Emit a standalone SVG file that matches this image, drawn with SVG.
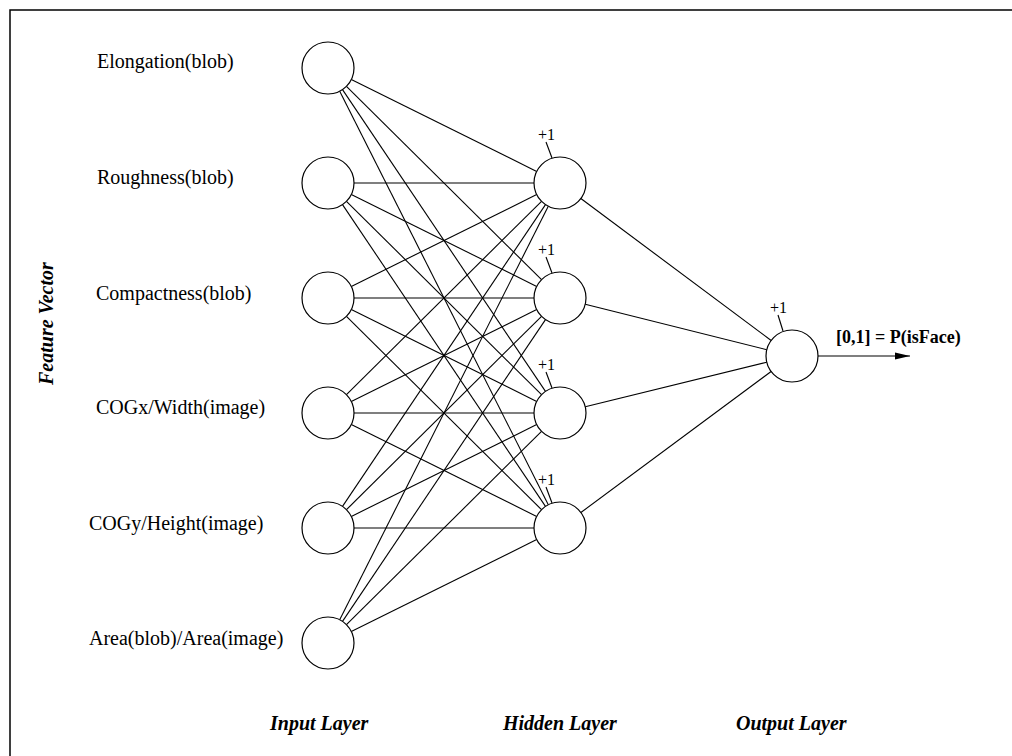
<svg xmlns="http://www.w3.org/2000/svg" width="1012" height="756" viewBox="0 0 1012 756">
<defs>
<style>
.frame{fill:#fff;stroke:#000;stroke-width:1.5}
.node{fill:#fff;stroke:#000;stroke-width:1.2}
.edge{stroke:#000;stroke-width:1.1;fill:none}
.lbl{font-family:"Liberation Serif","Times New Roman",serif;font-size:20px;fill:#000}
.bias{font-family:"Liberation Serif","Times New Roman",serif;font-size:16px;fill:#000}
.title{font-family:"Liberation Serif","Times New Roman",serif;font-size:20px;font-weight:bold;font-style:italic;fill:#000}
.out{font-family:"Liberation Serif","Times New Roman",serif;font-size:18px;font-weight:bold;fill:#000}
</style>
<marker id="arr" markerWidth="16" markerHeight="8" refX="15" refY="4" orient="auto" markerUnits="userSpaceOnUse">
<path d="M0,0.5 L15,4 L0,7.5 Z" fill="#000"/>
</marker>
</defs>
<rect class="frame" x="10" y="10" width="1100" height="800"/>
<text class="title" transform="translate(53,385) rotate(-90)">Feature Vector</text>
<g id="connectors">
<line class="edge" x1="351.30" y1="79.55" x2="536.70" y2="171.45"/>
<line class="edge" x1="346.46" y1="86.30" x2="541.54" y2="279.70"/>
<line class="edge" x1="342.51" y1="89.58" x2="545.49" y2="391.42"/>
<line class="edge" x1="339.71" y1="91.21" x2="548.29" y2="504.79"/>
<line class="edge" x1="354" y1="183" x2="534" y2="183"/>
<line class="edge" x1="351.30" y1="194.55" x2="536.70" y2="286.45"/>
<line class="edge" x1="346.46" y1="201.30" x2="541.54" y2="394.70"/>
<line class="edge" x1="342.51" y1="204.58" x2="545.49" y2="506.42"/>
<line class="edge" x1="351.30" y1="286.45" x2="536.70" y2="194.55"/>
<line class="edge" x1="354" y1="298" x2="534" y2="298"/>
<line class="edge" x1="351.30" y1="309.55" x2="536.70" y2="401.45"/>
<line class="edge" x1="346.46" y1="316.30" x2="541.54" y2="509.70"/>
<line class="edge" x1="346.46" y1="394.70" x2="541.54" y2="201.30"/>
<line class="edge" x1="351.30" y1="401.45" x2="536.70" y2="309.55"/>
<line class="edge" x1="354" y1="413" x2="534" y2="413"/>
<line class="edge" x1="351.30" y1="424.55" x2="536.70" y2="516.45"/>
<line class="edge" x1="342.51" y1="506.42" x2="545.49" y2="204.58"/>
<line class="edge" x1="346.46" y1="509.70" x2="541.54" y2="316.30"/>
<line class="edge" x1="351.30" y1="516.45" x2="536.70" y2="424.55"/>
<line class="edge" x1="354" y1="528" x2="534" y2="528"/>
<line class="edge" x1="339.71" y1="619.79" x2="548.29" y2="206.21"/>
<line class="edge" x1="342.51" y1="621.42" x2="545.49" y2="319.58"/>
<line class="edge" x1="346.46" y1="624.70" x2="541.54" y2="431.30"/>
<line class="edge" x1="351.30" y1="631.45" x2="536.70" y2="539.55"/>
<line class="edge" x1="580.84" y1="198.54" x2="771.16" y2="340.46"/>
<line class="edge" x1="585.22" y1="304.31" x2="766.78" y2="349.69"/>
<line class="edge" x1="585.25" y1="406.80" x2="766.75" y2="362.20"/>
<line class="edge" x1="580.89" y1="512.51" x2="771.11" y2="371.49"/>
<line class="edge" x1="546" y1="142" x2="552" y2="158"/>
<line class="edge" x1="546" y1="257" x2="552" y2="273"/>
<line class="edge" x1="546" y1="372" x2="552" y2="388"/>
<line class="edge" x1="546" y1="487" x2="552" y2="503"/>
<line class="edge" x1="778" y1="315" x2="783" y2="331"/>
<line class="edge" x1="818" y1="356" x2="910" y2="356" marker-end="url(#arr)"/>
</g>
<g id="in1"><circle class="node" cx="328" cy="68" r="26"/><text class="lbl" x="97" y="68">Elongation(blob)</text></g>
<g id="in2"><circle class="node" cx="328" cy="183" r="26"/><text class="lbl" x="97" y="184">Roughness(blob)</text></g>
<g id="in3"><circle class="node" cx="328" cy="298" r="26"/><text class="lbl" x="96" y="300">Compactness(blob)</text></g>
<g id="in4"><circle class="node" cx="328" cy="413" r="26"/><text class="lbl" x="96" y="414">COGx/Width(image)</text></g>
<g id="in5"><circle class="node" cx="328" cy="528" r="26"/><text class="lbl" x="89" y="530">COGy/Height(image)</text></g>
<g id="in6"><circle class="node" cx="328" cy="643" r="26"/><text class="lbl" x="89" y="645">Area(blob)/Area(image)</text></g>
<g id="h1"><circle class="node" cx="560" cy="183" r="26"/><text class="bias" x="538" y="140">+1</text></g>
<g id="h2"><circle class="node" cx="560" cy="298" r="26"/><text class="bias" x="538" y="255">+1</text></g>
<g id="h3"><circle class="node" cx="560" cy="413" r="26"/><text class="bias" x="538" y="370">+1</text></g>
<g id="h4"><circle class="node" cx="560" cy="528" r="26"/><text class="bias" x="538" y="485">+1</text></g>
<g id="out"><circle class="node" cx="792" cy="356" r="26"/><text class="bias" x="770" y="313">+1</text><text class="out" x="836" y="343">[0,1] = P(isFace)</text></g>
<g id="layers">
<text class="title" x="270" y="730">Input Layer</text>
<text class="title" x="503" y="730">Hidden Layer</text>
<text class="title" x="736" y="730">Output Layer</text>
</g>
</svg>
